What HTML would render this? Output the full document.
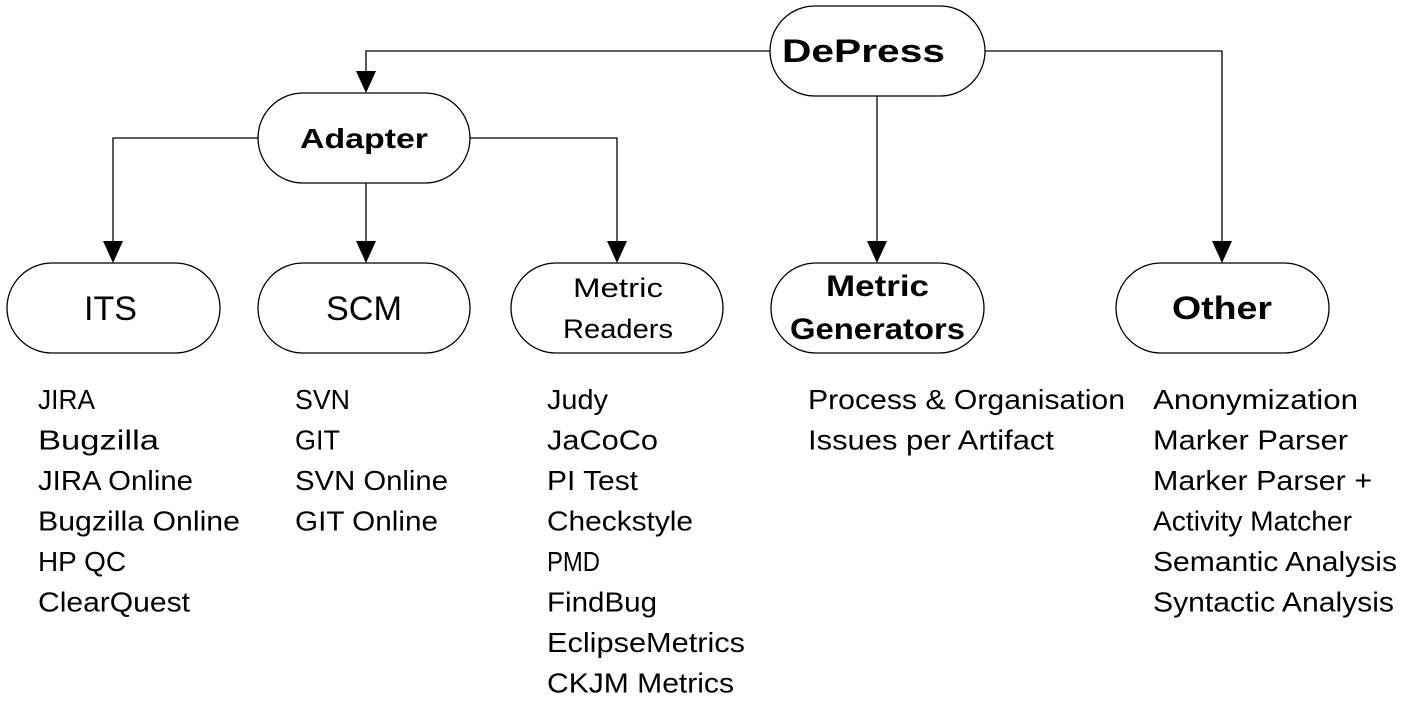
<!DOCTYPE html>
<html><head><style>body{margin:0;background:#fff}svg{display:block}</style></head><body>
<svg width="1404" height="710" viewBox="0 0 1404 710" xmlns="http://www.w3.org/2000/svg" font-family="Liberation Sans, sans-serif">
<g stroke="#000" stroke-width="1.3" fill="none">
<polyline points="770,51 366,51 366,72" />
<polyline points="985,51 1222,51 1222,242"/>
<path d="M877,96 L877,242"/>
<polyline points="258,138 113,138 113,242"/>
<path d="M366,183 L366,242"/>
<polyline points="470,138 617,138 617,242"/>
<rect x="770" y="6" width="215" height="90" rx="45" fill="#fff"/>
<rect x="258" y="93" width="212" height="90" rx="45" fill="#fff"/>
<rect x="7" y="263" width="213" height="90" rx="45" fill="#fff"/>
<rect x="258" y="263" width="212" height="90" rx="45" fill="#fff"/>
<rect x="511" y="263" width="212" height="90" rx="45" fill="#fff"/>
<rect x="771" y="263" width="213" height="90" rx="45" fill="#fff"/>
<rect x="1116" y="263" width="213" height="90" rx="45" fill="#fff"/>
</g>
<g fill="#000">
<path d="M356,71 L376,71 L366,93 Z"/>
<path d="M103,241 L123,241 L113,263 Z"/>
<path d="M356,241 L376,241 L366,263 Z"/>
<path d="M607,241 L627,241 L617,263 Z"/>
<path d="M867,241 L887,241 L877,263 Z"/>
<path d="M1212,241 L1232,241 L1222,263 Z"/>
</g>
<g fill="#000">
<text x="782" y="62" font-size="32" font-weight="bold" textLength="163" lengthAdjust="spacingAndGlyphs">DePress</text>
<text x="300" y="148" font-size="28" font-weight="bold" textLength="128" lengthAdjust="spacingAndGlyphs">Adapter</text>
<text x="84" y="320" font-size="34" textLength="53" lengthAdjust="spacingAndGlyphs">ITS</text>
<text x="326" y="320" font-size="34" textLength="76" lengthAdjust="spacingAndGlyphs">SCM</text>
<text x="573" y="297" font-size="27" textLength="90" lengthAdjust="spacingAndGlyphs">Metric</text>
<text x="563" y="338" font-size="27" textLength="110" lengthAdjust="spacingAndGlyphs">Readers</text>
<text x="826" y="296" font-size="30" font-weight="bold" textLength="103" lengthAdjust="spacingAndGlyphs">Metric</text>
<text x="790" y="339" font-size="30" font-weight="bold" textLength="175" lengthAdjust="spacingAndGlyphs">Generators</text>
<text x="1172" y="319" font-size="32" font-weight="bold" textLength="100" lengthAdjust="spacingAndGlyphs">Other</text>
</g>
<g font-size="28" fill="#000">
<text x="38" y="409" textLength="57" lengthAdjust="spacingAndGlyphs">JIRA</text>
<text x="38" y="449.5" textLength="121" lengthAdjust="spacingAndGlyphs">Bugzilla</text>
<text x="38" y="490" textLength="155" lengthAdjust="spacingAndGlyphs">JIRA Online</text>
<text x="38" y="530.5" textLength="202" lengthAdjust="spacingAndGlyphs">Bugzilla Online</text>
<text x="38" y="571" textLength="88" lengthAdjust="spacingAndGlyphs">HP QC</text>
<text x="38" y="611.5" textLength="152" lengthAdjust="spacingAndGlyphs">ClearQuest</text>
<text x="295" y="409" textLength="55" lengthAdjust="spacingAndGlyphs">SVN</text>
<text x="295" y="449.5" textLength="45" lengthAdjust="spacingAndGlyphs">GIT</text>
<text x="295" y="490" textLength="153" lengthAdjust="spacingAndGlyphs">SVN Online</text>
<text x="295" y="530.5" textLength="143" lengthAdjust="spacingAndGlyphs">GIT Online</text>
<text x="547" y="409" textLength="61" lengthAdjust="spacingAndGlyphs">Judy</text>
<text x="547" y="449.5" textLength="111" lengthAdjust="spacingAndGlyphs">JaCoCo</text>
<text x="547" y="490" textLength="91" lengthAdjust="spacingAndGlyphs">PI Test</text>
<text x="547" y="530.5" textLength="146" lengthAdjust="spacingAndGlyphs">Checkstyle</text>
<text x="547" y="571" textLength="53" lengthAdjust="spacingAndGlyphs">PMD</text>
<text x="547" y="611.5" textLength="110" lengthAdjust="spacingAndGlyphs">FindBug</text>
<text x="547" y="652" textLength="198" lengthAdjust="spacingAndGlyphs">EclipseMetrics</text>
<text x="547" y="692.5" textLength="187" lengthAdjust="spacingAndGlyphs">CKJM Metrics</text>
<text x="808" y="409" textLength="317" lengthAdjust="spacingAndGlyphs">Process &amp; Organisation</text>
<text x="808" y="449.5" textLength="246" lengthAdjust="spacingAndGlyphs">Issues per Artifact</text>
<text x="1153" y="409" textLength="205" lengthAdjust="spacingAndGlyphs">Anonymization</text>
<text x="1153" y="449.5" textLength="195" lengthAdjust="spacingAndGlyphs">Marker Parser</text>
<text x="1153" y="490" textLength="219" lengthAdjust="spacingAndGlyphs">Marker Parser +</text>
<text x="1153" y="530.5" textLength="199" lengthAdjust="spacingAndGlyphs">Activity Matcher</text>
<text x="1153" y="571" textLength="244" lengthAdjust="spacingAndGlyphs">Semantic Analysis</text>
<text x="1153" y="611.5" textLength="241" lengthAdjust="spacingAndGlyphs">Syntactic Analysis</text>
</g>
</svg>
</body></html>
